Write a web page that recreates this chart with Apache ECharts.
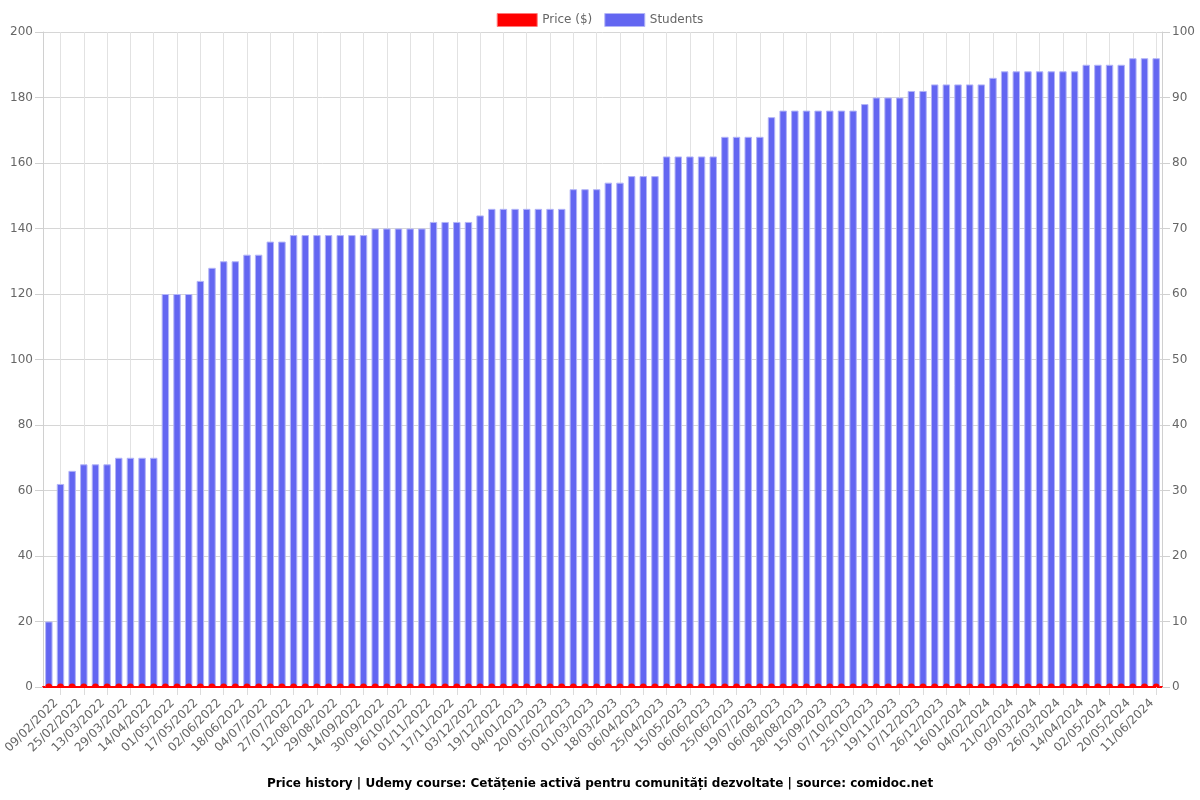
<!DOCTYPE html>
<html>
<head>
<meta charset="utf-8">
<script src="https://cdn.jsdelivr.net/npm/echarts@6/dist/echarts.min.js"></script>
<style>html,body{margin:0;padding:0;background:#fff}#c{width:1200px;height:800px}</style>
</head>
<body>
<div id="c"></div>
<script>
const dates = [
  '01/02/2022','09/02/2022','17/02/2022','25/02/2022','05/03/2022','13/03/2022','21/03/2022','29/03/2022',
  '06/04/2022','14/04/2022','22/04/2022','01/05/2022','09/05/2022','17/05/2022','25/05/2022','02/06/2022',
  '10/06/2022','18/06/2022','26/06/2022','04/07/2022','15/07/2022','27/07/2022','04/08/2022','12/08/2022',
  '20/08/2022','29/08/2022','06/09/2022','14/09/2022','22/09/2022','30/09/2022','08/10/2022','16/10/2022',
  '24/10/2022','01/11/2022','09/11/2022','17/11/2022','25/11/2022','03/12/2022','11/12/2022','19/12/2022',
  '27/12/2022','04/01/2023','12/01/2023','20/01/2023','28/01/2023','05/02/2023','15/02/2023','01/03/2023',
  '09/03/2023','18/03/2023','27/03/2023','06/04/2023','15/04/2023','25/04/2023','05/05/2023','15/05/2023',
  '26/05/2023','06/06/2023','15/06/2023','25/06/2023','07/07/2023','19/07/2023','28/07/2023','06/08/2023',
  '17/08/2023','28/08/2023','06/09/2023','15/09/2023','26/09/2023','07/10/2023','16/10/2023','25/10/2023',
  '06/11/2023','19/11/2023','28/11/2023','07/12/2023','16/12/2023','26/12/2023','05/01/2024','16/01/2024',
  '26/01/2024','04/02/2024','12/02/2024','21/02/2024','29/02/2024','09/03/2024','17/03/2024','26/03/2024',
  '04/04/2024','14/04/2024','23/04/2024','02/05/2024','11/05/2024','20/05/2024','30/05/2024','11/06/2024'
];
const students = [
  10,31,33,34,34,34,35,35,35,35,60,60,60,62,64,65,65,66,66,68,68,
  69,69,69,69,69,69,69,70,70,70,70,70,71,71,71,71,72,
  73,73,73,73,73,73,73,76,76,76,77,77,78,78,78,
  81,81,81,81,81,84,84,84,84,87,88,88,88,88,88,88,88,89,
  90,90,90,91,91,92,92,92,92,92,93,94,94,94,94,94,94,94,
  95,95,95,95,96,96,96
];
const price = [
  0,0,0,0,0,0,0,0,0,0,0,0,0,0,0,0,0,0,0,0,0,0,0,0,
  0,0,0,0,0,0,0,0,0,0,0,0,0,0,0,0,0,0,0,0,0,0,0,0,
  0,0,0,0,0,0,0,0,0,0,0,0,0,0,0,0,0,0,0,0,0,0,0,0,
  0,0,0,0,0,0,0,0,0,0,0,0,0,0,0,0,0,0,0,0,0,0,0,0
];
const leftTicks = {min: 0, max: 200, interval: 20};
const rightTicks = {min: 0, max: 100, interval: 10};

const FONT = 'DejaVu Sans';
const odd = (i) => i % 2 === 1;
const chart = echarts.init(document.getElementById('c'), null, {renderer: 'canvas'});
chart.setOption({
  animation: false,
  textStyle: {fontFamily: FONT},
  title: {
    text: 'Price history | Udemy course: Cetățenie activă pentru comunități dezvoltate | source: comidoc.net',
    left: 'center', bottom: 5,
    textStyle: {fontFamily: FONT, fontSize: 12, fontWeight: 'bold', color: '#000'}
  },
  legend: {
    top: 8, left: 'center', itemWidth: 40, itemHeight: 13, itemGap: 12,
    textStyle: {fontFamily: FONT, fontSize: 12, color: '#666'},
    data: [
      {name: 'Price ($)', icon: 'rect', itemStyle: {color: '#ff0000', borderColor: '#ff7a7a', borderWidth: 1}},
      {name: 'Students', icon: 'rect', itemStyle: {color: '#6366f1', borderColor: '#b3b5f7', borderWidth: 1}}
    ]
  },
  grid: {left: 43, right: 38, top: 32, bottom: 113, containLabel: false},
  xAxis: {
    type: 'category', data: dates, boundaryGap: true,
    axisLine: {show: true, lineStyle: {color: '#ff0000', width: 2}},
    axisTick: {show: true, alignWithLabel: true, interval: odd, length: 8, lineStyle: {color: '#dcdcdc'}},
    axisLabel: {interval: odd, rotate: 45, fontSize: 12, color: '#666', fontFamily: FONT, margin: 10, padding: [0, 6, 0, 0]},
    splitLine: {show: true, alignWithLabel: true, interval: odd, lineStyle: {color: '#e2e2e2', width: 1}}
  },
  yAxis: [
    {
      type: 'value', position: 'left', min: leftTicks.min, max: leftTicks.max, interval: leftTicks.interval,
      axisLine: {show: true, lineStyle: {color: '#d0d0d0'}},
      axisTick: {show: true, length: 8, lineStyle: {color: '#d0d0d0'}},
      axisLabel: {fontSize: 12, color: '#666', fontFamily: FONT, margin: 10},
      splitLine: {show: true, lineStyle: {color: '#d6d6d6'}}
    },
    {
      type: 'value', position: 'right', min: rightTicks.min, max: rightTicks.max, interval: rightTicks.interval,
      axisLine: {show: true, lineStyle: {color: '#d0d0d0'}},
      axisTick: {show: true, length: 8, lineStyle: {color: '#d0d0d0'}},
      axisLabel: {fontSize: 12, color: '#666', fontFamily: FONT, margin: 10},
      splitLine: {show: false}
    }
  ],
  series: [
    {
      name: 'Students', type: 'bar', yAxisIndex: 1, data: students,
      barWidth: '64%',
      itemStyle: {color: '#6366f1', borderColor: '#b3b5f7', borderWidth: 1}
    },
    {
      name: 'Price ($)', type: 'line', yAxisIndex: 0, data: price,
      symbol: 'path://M0,10A10,10,0,0,1,20,10Z', symbolSize: [7, 3.5], symbolOffset: [0, '-50%'],
      showAllSymbol: true, z: 5,
      lineStyle: {color: '#ff0000', width: 2},
      itemStyle: {color: '#ff0000'}
    }
  ]
});
</script>
</body>
</html>
